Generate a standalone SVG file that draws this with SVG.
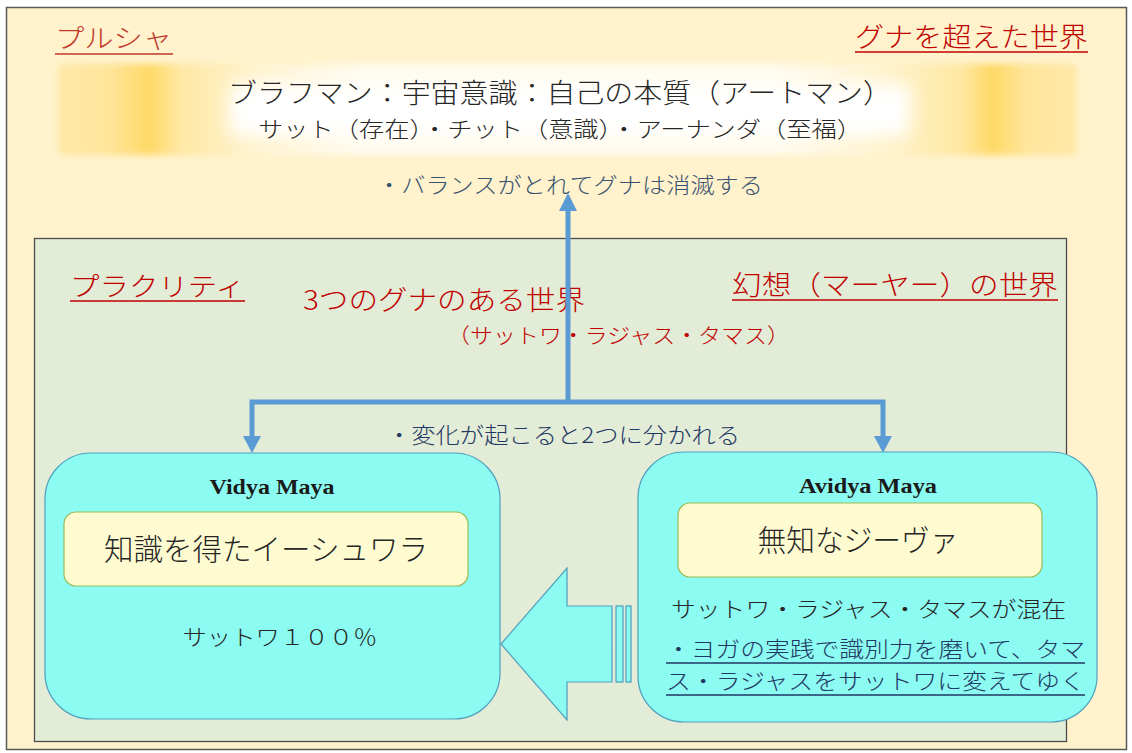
<svg xmlns="http://www.w3.org/2000/svg" width="1132" height="753" viewBox="0 0 1132 753">
<style>
.jp{font-family:"Noto Sans CJK JP","Liberation Serif",serif;font-weight:300;}
.red{fill:#C00000;}
.dark{fill:#262626;}
.lat{font-family:"Liberation Serif",serif;font-weight:bold;fill:#1a1a1a;}
.ul{stroke-width:1.6;}
.conn{stroke:#5B9BD5;stroke-width:5;fill:none;}
.head{fill:#5B9BD5;}
.big{fill:#8CFBF1;stroke:#4E9FBE;stroke-width:1.2;}
.inner{fill:#FEFBD1;stroke:#9BBB59;stroke-width:1.2;}
</style>
<defs>
<linearGradient id="gold" x1="0" y1="0" x2="1" y2="0">
<stop offset="0" stop-color="#FFE9A8"/>
<stop offset="0.05" stop-color="#FFE59A"/>
<stop offset="0.09" stop-color="#FFD966"/>
<stop offset="0.12" stop-color="#FFE8A4"/>
<stop offset="0.2" stop-color="#FFF4D2"/>
<stop offset="0.3" stop-color="#FFFBEE"/>
<stop offset="0.7" stop-color="#FFFBEE"/>
<stop offset="0.8" stop-color="#FFF4D2"/>
<stop offset="0.885" stop-color="#FFE8A4"/>
<stop offset="0.917" stop-color="#FFD966"/>
<stop offset="0.95" stop-color="#FFE59A"/>
<stop offset="1" stop-color="#FFE9A8"/>
</linearGradient>
<filter id="blur" x="-10%" y="-30%" width="120%" height="160%"><feGaussianBlur stdDeviation="3"/></filter>
<filter id="blur2" x="-10%" y="-50%" width="120%" height="200%"><feGaussianBlur stdDeviation="9"/></filter>
</defs>
<rect id="frame" x="6.5" y="7.5" width="1120" height="742" fill="#FFF2CC" stroke="#595959" stroke-width="1.5"/>
<g id="purusha-band">
<rect x="58" y="64" width="1019" height="91" rx="6" fill="url(#gold)" filter="url(#blur)"/>
<rect x="230" y="84" width="680" height="52" fill="#FFFFFF" filter="url(#blur2)"/>
<text class="jp dark" x="560" y="103" font-size="27" text-anchor="middle" textLength="664" lengthAdjust="spacingAndGlyphs">ブラフマン：宇宙意識：自己の本質（アートマン）</text>
<text class="jp dark" x="560" y="137" font-size="22" text-anchor="middle" textLength="604" lengthAdjust="spacingAndGlyphs">サット（存在）・チット（意識）・アーナンダ（至福）</text>
</g>
<g id="purusha-labels">
<text class="jp" x="55" y="48" font-size="26" fill="#C0392B" textLength="117" lengthAdjust="spacingAndGlyphs">プルシャ</text>
<line x1="55" y1="54" x2="173" y2="54" stroke="#C0392B" class="ul"/>
<text class="jp red" x="855" y="47" font-size="27" textLength="233" lengthAdjust="spacingAndGlyphs">グナを超えた世界</text>
<line x1="855" y1="52" x2="1088" y2="52" stroke="#C00000" class="ul"/>
<text class="jp" x="377" y="193" font-size="22" fill="#3A5270" textLength="386" lengthAdjust="spacingAndGlyphs">・バランスがとれてグナは消滅する</text>
</g>
<g id="prakriti">
<rect x="34.5" y="238.5" width="1032" height="503" fill="#E2ECD6" stroke="#4D4D4D" stroke-width="1.3"/>
<text class="jp red" x="70" y="296" font-size="26" textLength="175" lengthAdjust="spacingAndGlyphs">プラクリティ</text>
<line x1="70" y1="301" x2="245" y2="301" stroke="#C00000" class="ul"/>
<text class="jp red" x="303" y="310" font-size="27" textLength="282" lengthAdjust="spacingAndGlyphs">3つのグナのある世界</text>
<text class="jp red" x="447" y="343" font-size="21" textLength="343" lengthAdjust="spacingAndGlyphs">（サットワ・ラジャス・タマス）</text>
<text class="jp red" x="732" y="295" font-size="27" textLength="326" lengthAdjust="spacingAndGlyphs">幻想（マーヤー）の世界</text>
<line x1="732" y1="300" x2="1058" y2="300" stroke="#C00000" class="ul"/>
<text class="jp" x="387" y="443" font-size="22" fill="#1F3864" textLength="353" lengthAdjust="spacingAndGlyphs">・変化が起こると2つに分かれる</text>
</g>
<g id="connectors">
<polyline class="conn" points="252,440 252,402 883,402 883,440"/>
<line class="conn" x1="568" y1="402" x2="568" y2="208"/>
<polygon class="head" points="568,193 559,211 577,211"/>
<polygon class="head" points="252,453 243,436 261,436"/>
<polygon class="head" points="883,453 874,436 892,436"/>
</g>
<g id="vidya">
<rect class="big" x="45" y="453" width="455" height="266" rx="46"/>
<text class="lat" x="272" y="494" font-size="21" text-anchor="middle" textLength="125" lengthAdjust="spacingAndGlyphs">Vidya Maya</text>
<rect class="inner" x="64" y="512" width="404" height="74" rx="12"/>
<text class="jp dark" x="266" y="560" font-size="30" text-anchor="middle" textLength="324" lengthAdjust="spacingAndGlyphs">知識を得たイーシュワラ</text>
<text class="jp dark" x="280" y="645" font-size="22" text-anchor="middle" textLength="195" lengthAdjust="spacingAndGlyphs">サットワ１００％</text>
</g>
<g id="avidya">
<rect class="big" x="638" y="452" width="459" height="270" rx="46"/>
<text class="lat" x="868" y="493" font-size="21" text-anchor="middle" textLength="138" lengthAdjust="spacingAndGlyphs">Avidya Maya</text>
<rect class="inner" x="678" y="503" width="364" height="74" rx="12"/>
<text class="jp dark" x="858" y="551" font-size="30" text-anchor="middle" textLength="201" lengthAdjust="spacingAndGlyphs">無知なジーヴァ</text>
<text class="jp dark" x="671" y="617" font-size="22" textLength="395" lengthAdjust="spacingAndGlyphs">サットワ・ラジャス・タマスが混在</text>
<text class="jp" x="666" y="657" font-size="22" fill="#1F3864" textLength="419" lengthAdjust="spacingAndGlyphs">・ヨガの実践で識別力を磨いて、タマ</text>
<line x1="666" y1="663" x2="1085" y2="663" stroke="#1F3864" class="ul"/>
<text class="jp" x="666" y="689" font-size="22" fill="#1F3864" textLength="419" lengthAdjust="spacingAndGlyphs">ス・ラジャスをサットワに変えてゆく</text>
<line x1="666" y1="695" x2="1085" y2="695" stroke="#1F3864" class="ul"/>
</g>
<g id="transform-arrow">
<polygon class="big" points="501,644 567,568 567,606 612,606 612,682 567,682 567,720"/>
<rect class="big" x="616" y="606" width="7" height="76"/>
<rect class="big" x="626" y="606" width="5" height="76"/>
</g>
</svg>
